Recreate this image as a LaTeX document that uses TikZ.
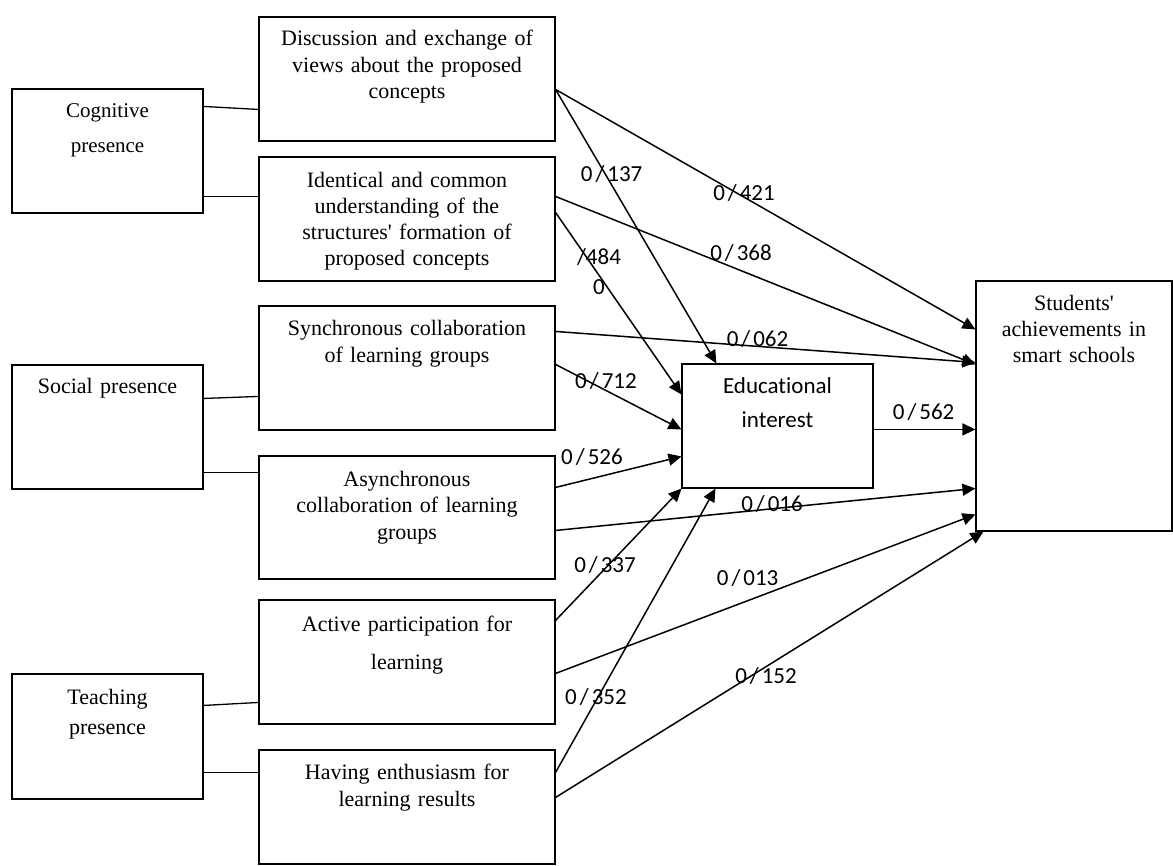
\documentclass[tikz,border=0pt]{standalone}
\usepackage{fontspec}
\setmainfont{Liberation Serif}
\newfontfamily\lblfont[Ligatures=NoCommon]{Carlito}
\usetikzlibrary{arrows.meta}
\newcommand{\coefsl}{\kern3pt/\kern3pt}
\begin{document}
\begin{tikzpicture}[x=1pt,y=-1pt,
  box/.style={draw, line width=1.1pt, inner sep=0pt, align=center,
    font=\fontsize{22}{26.5}\selectfont},
  tb/.style 2 args={text height=#1, text depth=#2},
  link/.style={line width=1.3pt},
  arr/.style={line width=1.5pt, -{Triangle[length=13pt,width=12pt]}},
  lbl/.style={inner sep=0pt, font=\lblfont\fontsize{23}{30}\selectfont}]
\useasboundingbox (0,0) rectangle (1173,866);
% presence boxes
\node[box, text width=191pt, tb={29pt}{95pt}, font=\fontsize{21}{35}\selectfont] (cog) at (107.5,151){Cognitive\\presence};
\node[box, text width=191pt, tb={29pt}{95pt}] (soc) at (107.5,427){Social presence};
\node[box, text width=191pt, tb={30pt}{95pt}, font=\fontsize{22}{30}\selectfont] (tea) at (107.5,736.5){Teaching\\presence};
% indicator boxes
\node[box, text width=296pt, tb={29pt}{95pt}] (disc) at (407,79){Discussion and exchange of\\views about the proposed\\concepts};
\node[box, text width=296pt, tb={31pt}{93pt}, font=\fontsize{22}{26}\selectfont] (iden) at (407,219){Identical and common\\understanding of the\\structures\textquotesingle{} formation of\\proposed concepts};
\node[box, text width=296pt, tb={30pt}{94pt}, font=\fontsize{22}{27}\selectfont] (sync) at (407,368){Synchronous collaboration\\of learning groups};
\node[box, text width=296pt, tb={30pt}{93pt}] (async) at (407,517.5){Asynchronous\\collaboration of learning\\groups};
\node[box, text width=296pt, tb={31pt}{93pt}, font=\fontsize{22}{38}\selectfont] (act) at (407,662){Active participation for\\learning};
\node[box, text width=296pt, tb={29pt}{85pt}, font=\fontsize{22}{27}\selectfont] (hav) at (407,807){Having enthusiasm for\\learning results};
% outcome boxes
\node[box, text width=191pt, tb={30pt}{94pt}, font=\lblfont\fontsize{23}{34}\selectfont] (edu) at (777.5,426){Educational\\interest};
\node[box, text width=196pt, tb={30pt}{220pt}, font=\fontsize{22}{26}\selectfont] (stu) at (1074,406){Students\textquotesingle\\achievements in\\smart schools};
% plain links
\draw[link] ([yshift=-18pt]cog.north east) -- ([yshift=-93pt]disc.north west);
\draw[link] ([yshift=-108pt]cog.north east) -- ([yshift=-40pt]iden.north west);
\draw[link] ([yshift=-34pt]soc.north east) -- ([yshift=-91pt]sync.north west);
\draw[link] ([yshift=-108pt]soc.north east) -- ([yshift=-17pt]async.north west);
\draw[link] ([yshift=-32pt]tea.north east) -- ([yshift=-103pt]act.north west);
\draw[link] ([yshift=-99pt]tea.north east) -- ([yshift=-23pt]hav.north west);
% paths
\draw[arr] ([yshift=-73pt]disc.north east) -- ([yshift=-49pt]stu.north west);
\draw[arr] ([yshift=-73pt]disc.north east) -- ([xshift=35pt]edu.north west);
\draw[arr] ([yshift=-40pt]iden.north east) -- ([yshift=-84pt]stu.north west);
\draw[arr] ([yshift=-56pt]iden.north east) -- ([yshift=-31pt]edu.north west);
\draw[arr] ([yshift=-26pt]sync.north east) -- ([yshift=-82pt]stu.north west);
\draw[arr] ([yshift=-59pt]sync.north east) -- ([yshift=-66pt]edu.north west);
\draw[arr] ([yshift=-32pt]async.north east) -- ([yshift=-93pt]edu.north west);
\draw[arr] ([yshift=-75pt]async.north east) -- ([yshift=-208pt]stu.north west);
\draw[arr] ([yshift=-21pt]act.north east) -- (edu.south west);
\draw[arr] ([yshift=-74pt]act.north east) -- ([yshift=-234pt]stu.north west);
\draw[arr] ([yshift=-23pt]hav.north east) -- ([xshift=34pt]edu.south west);
\draw[arr] ([yshift=-48pt]hav.north east) -- ([xshift=8pt]stu.south west);
\draw[arr] ([yshift=-66pt]edu.north east) -- ([yshift=-149pt]stu.north west);
% coefficients
\node[lbl] (c137) at (611.6,174){0\coefsl137};
\node[lbl] (c421) at (744,193){0\coefsl421};
\node[lbl, align=center] (c484) at (599,272){/484\\0};
\node[lbl] (c368) at (741,253){0\coefsl368};
\node[lbl] (c062) at (757.5,339){0\coefsl062};
\node[lbl] (c712) at (606,381){0\coefsl712};
\node[lbl] (c562) at (923.6,412){0\coefsl562};
\node[lbl] (c526) at (592,457){0\coefsl526};
\node[lbl] (c016) at (772,504){0\coefsl016};
\node[lbl] (c337) at (605,565){0\coefsl337};
\node[lbl] (c013) at (747.6,578){0\coefsl013};
\node[lbl] (c352) at (596,697){0\coefsl352};
\node[lbl] (c152) at (766,676){0\coefsl152};
\end{tikzpicture}
\end{document}
